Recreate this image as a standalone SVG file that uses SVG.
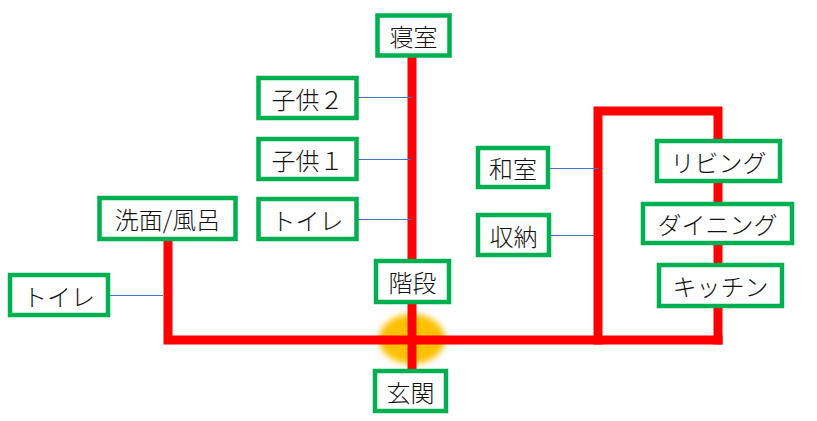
<svg xmlns="http://www.w3.org/2000/svg" width="817" height="421" viewBox="0 0 817 421">
<defs>
<style>
.box rect{fill:#fff;stroke:#00B050;stroke-width:4.5}
.box text{font-family:"Noto Sans CJK JP","Noto Sans",sans-serif;font-size:24px;font-weight:300;fill:#111;text-anchor:middle;dominant-baseline:central}
.red{stroke:#FF0000;stroke-width:9;fill:none;stroke-linecap:square}
.blue{stroke:#4472C4;stroke-width:1;fill:none}
</style>
<filter id="blur" x="-50%" y="-50%" width="200%" height="200%"><feGaussianBlur stdDeviation="3"/></filter>
</defs>
<rect width="817" height="421" fill="#fff"/>
<ellipse cx="412" cy="339" rx="33" ry="25" fill="#FFC000" filter="url(#blur)"/>
<g id="connectors">
<line class="red" x1="412" y1="57" x2="412" y2="258"/>
<line class="red" x1="412" y1="304" x2="412" y2="368"/>
<polyline class="red" points="168,241 168,340 718,340"/>
<polyline class="red" points="598,340 598,111 718,111 718,340"/>
<line class="blue" x1="358" y1="97.5" x2="411" y2="97.5"/>
<line class="blue" x1="358" y1="159.5" x2="411" y2="159.5"/>
<line class="blue" x1="358" y1="219.5" x2="411" y2="219.5"/>
<line class="blue" x1="110" y1="295.5" x2="163" y2="295.5"/>
<line class="blue" x1="542" y1="168.5" x2="598" y2="168.5"/>
<line class="blue" x1="551" y1="235.5" x2="594" y2="235.5"/>
</g>
<g id="n_shinshitsu" class="box"><rect x="377.5" y="15.5" width="72" height="40"/><text x="413.5" y="35.5">寝室</text></g>
<g id="n_kodomo2" class="box"><rect x="258.5" y="78" width="98" height="40"/><text x="307.5" y="98">子供２</text></g>
<g id="n_kodomo1" class="box"><rect x="258.5" y="139" width="98" height="40"/><text x="307.5" y="159">子供１</text></g>
<g id="n_toilet2" class="box"><rect x="258.5" y="199" width="98" height="40"/><text x="307.5" y="219">トイレ</text></g>
<g id="n_senmen" class="box"><rect x="99.5" y="198" width="136" height="41"/><text x="167.5" y="218.5">洗面/風呂</text></g>
<g id="n_toilet1" class="box"><rect x="10" y="275" width="98" height="40"/><text x="59" y="295">トイレ</text></g>
<g id="n_kaidan" class="box"><rect x="376" y="261" width="73" height="41"/><text x="412.5" y="281.5">階段</text></g>
<g id="n_genkan" class="box"><rect x="375" y="371" width="71" height="40"/><text x="410.5" y="391">玄関</text></g>
<g id="n_washitsu" class="box"><rect x="478" y="148" width="70" height="39"/><text x="513" y="167.5">和室</text></g>
<g id="n_shuno" class="box"><rect x="478" y="215" width="71" height="40"/><text x="513.5" y="235">収納</text></g>
<g id="n_living" class="box"><rect x="657" y="141" width="123" height="40"/><text x="718.5" y="161">リビング</text></g>
<g id="n_dining" class="box"><rect x="643" y="204" width="149" height="39"/><text x="717.5" y="223.5">ダイニング</text></g>
<g id="n_kitchen" class="box"><rect x="659" y="265" width="123" height="41"/><text x="720.5" y="285.5">キッチン</text></g>
</svg>
